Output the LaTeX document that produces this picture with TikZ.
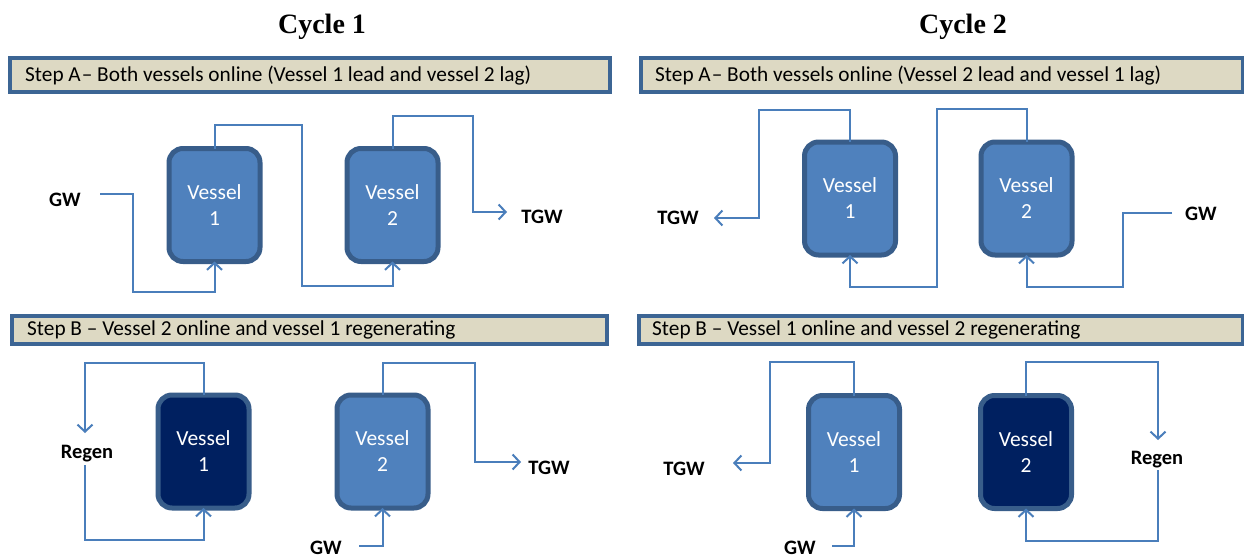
\documentclass[tikz,border=0pt]{standalone}
\usepackage{fontspec}
\setmainfont{Carlito}
\newfontfamily\titlefont{Liberation Serif}
\usetikzlibrary{arrows.meta}
\definecolor{bannerfill}{HTML}{DDD9C3}
\definecolor{bannerline}{HTML}{3C6594}
\definecolor{vesselfill}{HTML}{4F81BD}
\definecolor{vesseldark}{HTML}{002060}
\definecolor{vesselline}{HTML}{385D8A}
\definecolor{flowline}{HTML}{4A7EBB}
\tikzset{
  vessel/.style={draw=vesselline, line width=5pt, fill=vesselfill, rounded corners=14pt,
    minimum width=91pt, minimum height=113pt, text=white, align=center,
    font=\fontsize{21.5}{26}\selectfont, inner sep=0pt, outer sep=0pt},
  regen vessel/.style={vessel, fill=vesseldark},
  banner/.style={draw=bannerline, line width=3.5pt, fill=bannerfill},
  bannertext/.style={anchor=west, inner sep=0pt, font=\fontsize{21.3}{24}\selectfont},
  flow/.style={draw=flowline, line width=2pt},
  arrowflow/.style={flow, -{Straight Barb[length=7pt, width=15pt, line width=2pt]}},
  streamlabel/.style={font=\fontsize{20.5}{22}\selectfont\bfseries, inner sep=0pt},
  cycletitle/.style={font=\fontsize{28}{32}\selectfont\titlefont\bfseries, inner sep=0pt}
}
\begin{document}
\begin{tikzpicture}[x=1pt, y=-1pt]
\useasboundingbox (0,0) rectangle (1244,559);
\fill[white] (0,0) rectangle (1244,559);

% ---------- titles ----------
\node[cycletitle] (t1) at (322,27) {Cycle 1};
\node[cycletitle] (t2) at (963,27) {Cycle 2};

% ---------- step banners ----------
\draw[banner] (10,58) rectangle (610,92);
\node[bannertext] (sa1) at (25,76) {Step A\kern1pt-- Both vessels online (Vessel 1 lead and vessel 2 lag)};
\draw[banner] (641,58) rectangle (1243,92);
\node[bannertext] (sa2) at (655,76) {Step A\kern1pt-- Both vessels online (Vessel 2 lead and vessel 1 lag)};
\draw[banner] (12,316) rectangle (607,344);
\node[bannertext] (sb1) at (27,330) {Step B -- Vessel 2 online and vessel 1 regenerating};
\draw[banner] (639,316) rectangle (1243,344);
\node[bannertext] (sb2) at (652,330) {Step B -- Vessel 1 online and vessel 2 regenerating};

% ---------- Cycle 1, step A ----------
\node[vessel] (av1) at (214.5,205) {Vessel\\1};
\node[vessel] (av2) at (392.5,205) {Vessel\\2};
\node[streamlabel] (agw) at (65,200) {GW};
\node[streamlabel] (atgw) at (542,217) {TGW};
\coordinate (agwin) at (100,194);
\coordinate (atgwout) at (507,212);
\draw[arrowflow] (agwin) -| (133,292) -| (av1.south);
\draw[arrowflow] (av1.north) |- (302,125) -- (302,286) -| (av2.south);
\draw[arrowflow] (av2.north) |- (473,116) |- (atgwout);

% ---------- Cycle 2, step A ----------
\node[vessel] (bv1) at (850,198.5) {Vessel\\1};
\node[vessel] (bv2) at (1026.5,198.5) {Vessel\\2};
\node[streamlabel] (btgw) at (678,218) {TGW};
\node[streamlabel] (bgw) at (1201,214) {GW};
\coordinate (btgwout) at (714,218);
\coordinate (bgwin) at (1172,213);
\draw[arrowflow] (bv1.north) |- (759,110) |- (btgwout);
\draw[arrowflow] (bv2.north) |- (937,109) -- (937,287) -| (bv1.south);
\draw[arrowflow] (bgwin) -| (1123,287) -| (bv2.south);

% ---------- Cycle 1, step B ----------
\node[regen vessel] (cv1) at (203.5,451.5) {Vessel\\1};
\node[vessel] (cv2) at (382.5,451.5) {Vessel\\2};
\node[streamlabel] (cregen) at (87,454) {Regen};
\node[streamlabel] (ctgw) at (549,468) {TGW};
\node[streamlabel] (cgw) at (326,548) {GW};
\coordinate (cregenout) at (85,433);
\coordinate (cregenin) at (85,465);
\coordinate (ctgwout) at (521,462);
\coordinate (cgwin) at (359,546);
\draw[arrowflow] (cv1.north) |- (85,363) -- (cregenout);
\draw[arrowflow] (cregenin) -- (85,540) -| (cv1.south);
\draw[arrowflow] (cv2.north) |- (475,363) |- (ctgwout);
\draw[arrowflow] (cgwin) -| (cv2.south);

% ---------- Cycle 2, step B ----------
\node[vessel] (dv1) at (854,452) {Vessel\\1};
\node[regen vessel] (dv2) at (1026,452) {Vessel\\2};
\node[streamlabel] (dtgw) at (684,469) {TGW};
\node[streamlabel] (dgw) at (800,548) {GW};
\node[streamlabel] (dregen) at (1157,460) {Regen};
\coordinate (dtgwout) at (733,463);
\coordinate (dgwin) at (832,546);
\coordinate (dregenout) at (1158,440);
\coordinate (dregenin) at (1158,470);
\draw[arrowflow] (dv1.north) |- (770,362) |- (dtgwout);
\draw[arrowflow] (dgwin) -| (dv1.south);
\draw[arrowflow] (dv2.north) |- (1158,362) -- (dregenout);
\draw[arrowflow] (dregenin) -- (1158,541) -| (dv2.south);
\end{tikzpicture}
\end{document}
